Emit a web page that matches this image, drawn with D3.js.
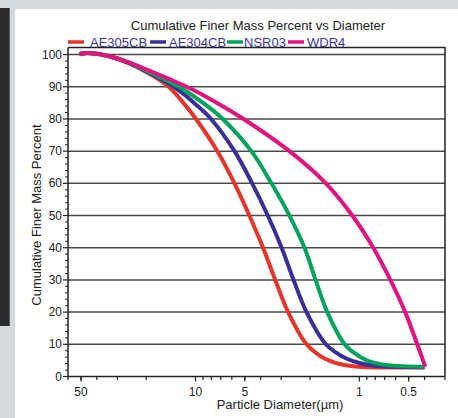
<!DOCTYPE html>
<html>
<head>
<meta charset="utf-8">
<script src="https://cdn.jsdelivr.net/npm/d3@7"></script>
<style>
  html, body { margin: 0; padding: 0; background: #d4d8db; }
  svg { display: block; font-family: "Liberation Sans", Arial, sans-serif; }
</style>
</head>
<body>
<svg id="chart" width="458" height="418"></svg>
<script>
// ---- data (diameter in µm, cumulative finer mass percent) ----
const seriesNames = ["AE305CB", "AE304CB", "NSR03", "WDR4"];
const seriesColors = ["#e5352b", "#3a2f9a", "#00a35c", "#e2137f"];

const ae305cb = [[51,100.2],[46,100.5],[40,100.2],[33,99.3],[26,97.5],[20,94.6],[14.8,90.3],[12,85.3],[9.93,80],[7.35,70],[5.78,60],[4.69,50],[3.87,40],[3.26,30],[2.72,20],[2.10,10],[1.75,6.5],[1.5,4.8],[1.3,3.8],[1.1,3.2],[0.9,2.9],[0.65,2.8],[0.4,2.8]];
const ae304cb = [[51,100.2],[46,100.5],[40,100.3],[33,99.4],[26,97.6],[20,94.8],[14.8,91.2],[12,88],[10,84.6],[8.04,80],[5.78,70],[4.51,60],[3.62,50],[2.98,40],[2.52,30],[2.10,20],[1.6,10],[1.4,7.6],[1.2,5.6],[1.0,4.2],[0.8,3.3],[0.6,3.0],[0.4,2.9]];
const nsr03 = [[51,100.2],[46,100.5],[40,100.3],[33,99.5],[26,97.7],[20,95.0],[14.8,91.8],[12,89.3],[9,85],[6.82,80],[4.56,70],[3.44,60],[2.67,50],[2.16,40],[1.85,30],[1.57,20],[1.23,10],[1.1,7.7],[0.91,5.1],[0.755,3.9],[0.6,3.3],[0.4,3.0]];
const wdr4 = [[51,100.2],[46,100.5],[40,100.3],[33,99.4],[26,97.7],[20,95.4],[14.8,92.6],[10.9,89.6],[8,86],[5.09,80],[2.67,70],[1.6,60],[1.104,50],[0.822,40],[0.647,30],[0.525,20],[0.443,10],[0.396,3.0]];

const xTickValues = [50, 10, 5, 1, 0.5];
const xTickLabels = ["50", "10", "5", "1", "0.5"];
const yTickValues = [0, 10, 20, 30, 40, 50, 60, 70, 80, 90, 100];

const titleText = "Cumulative Finer Mass Percent vs Diameter";
const xLabelText = "Particle Diameter(µm)";
const yLabelText = "Cumulative Finer Mass Percent";

const allSeries = [ae305cb, ae304cb, nsr03, wdr4];

// ---- layout ----
const svg = d3.select("#chart");
const L = 68, R = 445, T = 47.5, B = 376.5;

// backgrounds
svg.append("rect").attr("x", 0).attr("y", 0).attr("width", 458).attr("height", 418).attr("fill", "#d4d8db");
svg.append("rect").attr("x", 0).attr("y", 8).attr("width", 10).attr("height", 318).attr("fill", "#2a2b2c");
svg.append("line").attr("x1", 9.5).attr("x2", 9.5).attr("y1", 8).attr("y2", 326).attr("stroke", "#5a5c5e").attr("stroke-width", 1);
svg.append("rect").attr("x", 15).attr("y", 9).attr("width", 443).attr("height", 409).attr("fill", "#ffffff");

const x = d3.scaleLog().domain([60, 0.3]).range([L, R]);
const y = d3.scaleLinear().domain([0, 102.2]).range([B, T]);

// gridlines
svg.append("g").selectAll("line").data(yTickValues.filter(v => v > 0)).join("line")
  .attr("x1", L).attr("x2", R)
  .attr("y1", d => y(d)).attr("y2", d => y(d))
  .attr("stroke", "#4a4a4a").attr("stroke-width", 1.5);

// frame (top & right)
svg.append("path")
  .attr("d", `M${L},${T}H${R}V${B}`)
  .attr("fill", "none").attr("stroke", "#222").attr("stroke-width", 1.5);

// series lines
const line = d3.line()
  .x(d => x(d[0])).y(d => y(d[1]))
  .curve(d3.curveCatmullRom.alpha(0.5));

allSeries.forEach((s, i) => {
  svg.append("path").datum(s)
    .attr("d", line)
    .attr("fill", "none")
    .attr("stroke", seriesColors[i])
    .attr("stroke-width", 4)
    .attr("stroke-linejoin", "round")
    .attr("stroke-linecap", "butt");
});

// x axis
const xAxisG = svg.append("g").attr("transform", `translate(0,${B})`);
xAxisG.append("line").attr("x1", L).attr("x2", R).attr("y1", 0).attr("y2", 0).attr("stroke", "#222").attr("stroke-width", 1.5);
const minorX = [];
[0.1, 1, 10].forEach(dec => { for (let k = 2; k <= 9; k++) { const v = k * dec; if (v <= 60 && v >= 0.3) minorX.push(v); } });
xAxisG.selectAll("line.minor").data(minorX).join("line").attr("class", "minor")
  .attr("x1", d => x(d)).attr("x2", d => x(d)).attr("y1", 0).attr("y2", 3.5)
  .attr("stroke", "#222").attr("stroke-width", 1.2);
xAxisG.selectAll("line.major").data(xTickValues).join("line").attr("class", "major")
  .attr("x1", d => x(d)).attr("x2", d => x(d)).attr("y1", 0).attr("y2", 5)
  .attr("stroke", "#222").attr("stroke-width", 1.2);
xAxisG.selectAll("text").data(xTickValues).join("text")
  .attr("x", d => x(d)).attr("y", 19)
  .attr("text-anchor", "middle").attr("font-size", 12).attr("fill", "#222")
  .text((d, i) => xTickLabels[i]);

// y axis
const yAxisG = svg.append("g");
yAxisG.append("line").attr("x1", L).attr("x2", L).attr("y1", T).attr("y2", B).attr("stroke", "#222").attr("stroke-width", 1.5);
const minorY = d3.range(0, 102, 2).filter(v => v % 10 !== 0);
yAxisG.selectAll("line.minor").data(minorY).join("line").attr("class", "minor")
  .attr("x1", L - 3).attr("x2", L).attr("y1", d => y(d)).attr("y2", d => y(d))
  .attr("stroke", "#222").attr("stroke-width", 1);
yAxisG.selectAll("line.major").data(yTickValues).join("line").attr("class", "major")
  .attr("x1", L - 5).attr("x2", L).attr("y1", d => y(d)).attr("y2", d => y(d))
  .attr("stroke", "#222").attr("stroke-width", 1.2);
yAxisG.selectAll("text").data(yTickValues).join("text")
  .attr("x", L - 6).attr("y", d => y(d) + 4)
  .attr("text-anchor", "end").attr("font-size", 12).attr("fill", "#222")
  .text(d => d);

// title
svg.append("text").attr("x", 258).attr("y", 30).attr("text-anchor", "middle")
  .attr("font-size", 13).attr("fill", "#222").text(titleText);

// axis labels
svg.append("text").attr("x", 280).attr("y", 409).attr("text-anchor", "middle")
  .attr("font-size", 13).attr("fill", "#222").text(xLabelText);
svg.append("text").attr("transform", "translate(41,215) rotate(-90)").attr("text-anchor", "middle")
  .attr("font-size", 13).attr("fill", "#222").text(yLabelText);

// legend
const legendLineX = [68, 150, 227, 288];
const legendTextX = [90, 169, 244, 307];
const lg = svg.append("g");
seriesNames.forEach((n, i) => {
  lg.append("line").attr("x1", legendLineX[i]).attr("x2", legendLineX[i] + 16)
    .attr("y1", 42).attr("y2", 42).attr("stroke", seriesColors[i]).attr("stroke-width", 3.5);
  lg.append("text").attr("x", legendTextX[i]).attr("y", 46.5)
    .attr("font-size", 13).attr("fill", "#3b35a6").text(n);
});
</script>
</body>
</html>
